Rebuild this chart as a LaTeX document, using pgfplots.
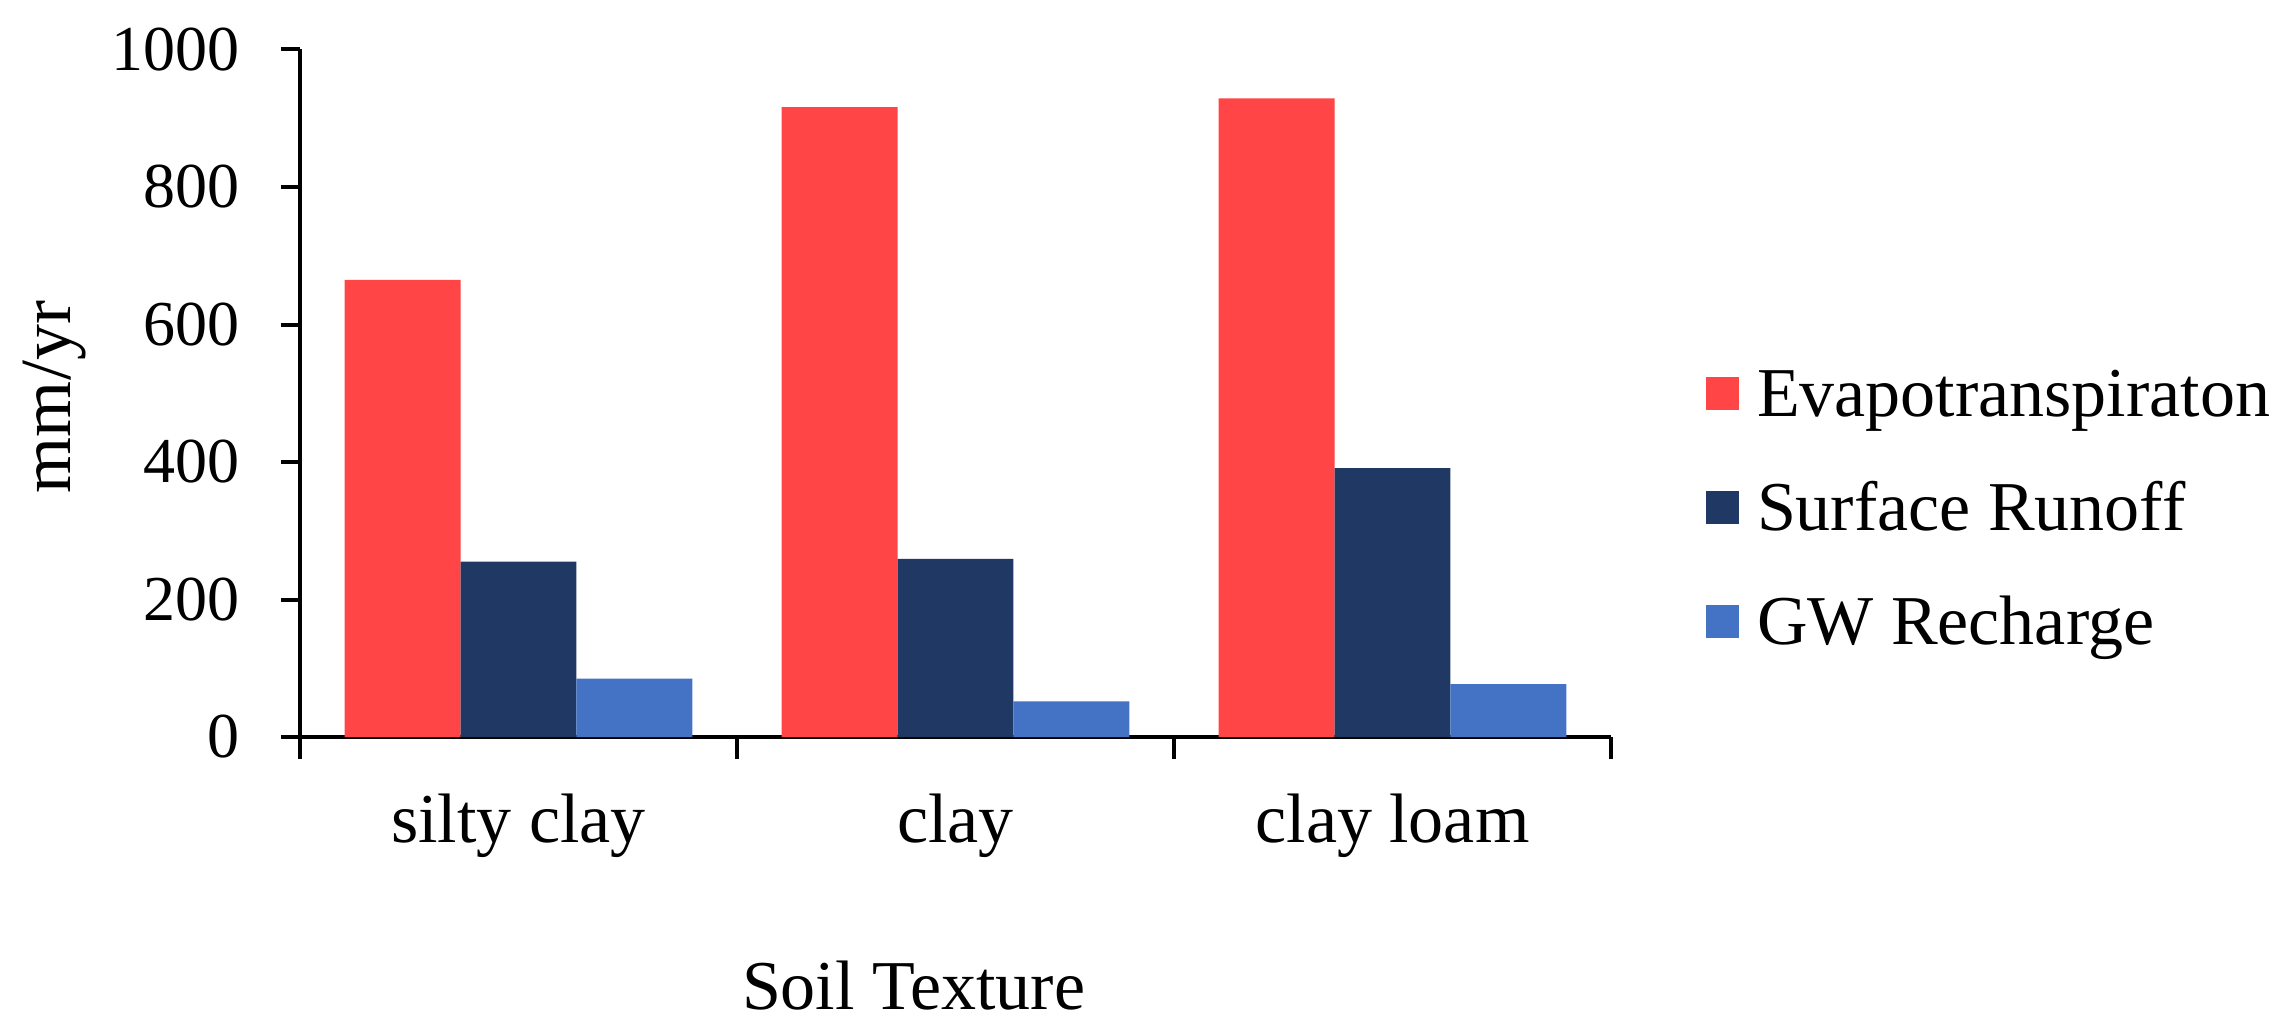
\documentclass[border=0pt]{standalone}
\usepackage{pgfplots}
\pgfplotsset{compat=1.18}
\usepackage{fontspec}
\setmainfont{Liberation Serif}
\definecolor{cET}{HTML}{FF4545}
\definecolor{cSR}{HTML}{203864}
\definecolor{cGW}{HTML}{4472C4}
\begin{document}
\begin{tikzpicture}
\useasboundingbox (-75bp,-72.75bp) rectangle (495.25bp,184.25bp);
\begin{axis}[
  at={(0,0)}, anchor=south west,
  scale only axis, width=327.75bp, height=171.875bp,
  xmin=-0.5, xmax=2.5, ymin=0, ymax=1000,
  axis x line*=bottom, axis y line*=left,
  axis line style={line width=1bp, black},
  tick align=outside,
  major tick length=4.75bp,
  minor tick length=5.5bp,
  tick style={line width=1bp, black},
  ytick={0,200,400,600,800,1000},
  xtick={0,1,2},
  xticklabels={silty clay, clay, clay loam},
  minor xtick={-0.5,0.5,1.5,2.5},
  x tick style={draw=none},
  minor x tick style={draw=black, line width=1bp},
  /pgf/number format/assume math mode=true,
  /pgf/number format/1000 sep={},
  yticklabel style={font=\fontsize{16bp}{19bp}\selectfont, inner sep=0pt, anchor=east, xshift=-10.25bp},
  xticklabel style={font=\fontsize{17.5bp}{21bp}\selectfont, inner sep=0pt, anchor=north, yshift=-9.25bp},
  scaled y ticks=false,
  xlabel={Soil Texture},
  ylabel={mm/yr},
  xlabel style={font=\fontsize{17.5bp}{21bp}\selectfont, inner sep=0pt, at={(axis description cs:0.468,0)}, anchor=north, yshift=-55.75bp},
  ylabel style={font=\fontsize{18bp}{21bp}\selectfont, inner sep=0pt, at={(axis description cs:-0.1869,0.4945)}, anchor=center},
  legend cell align=left,
  legend style={draw=none, fill=none, at={(1.0725,0.3331)}, anchor=west, inner sep=0pt, outer sep=0pt,
    row sep=14bp, column sep=4.5bp,
    font=\fontsize{17.5bp}{21bp}\selectfont,
    nodes={inner sep=0pt, text height=13bp, text depth=1.5bp}},
  legend image code/.code={\fill[#1] (0bp,-4.125bp) rectangle (8.25bp,4.125bp);},
]
\addplot[ybar, fill=cET, draw=none, bar width=0.2654, bar shift=-0.2654] coordinates {(0,665) (1,916) (2,929)};
\addlegendentry{Evapotranspiraton}
\addplot[ybar, fill=cSR, draw=none, bar width=0.2654, bar shift=0] coordinates {(0,255) (1,259) (2,391)};
\addlegendentry{Surface Runoff}
\addplot[ybar, fill=cGW, draw=none, bar width=0.2654, bar shift=0.2654] coordinates {(0,85) (1,52) (2,77)};
\addlegendentry{GW Recharge}
\end{axis}
\end{tikzpicture}
\end{document}
